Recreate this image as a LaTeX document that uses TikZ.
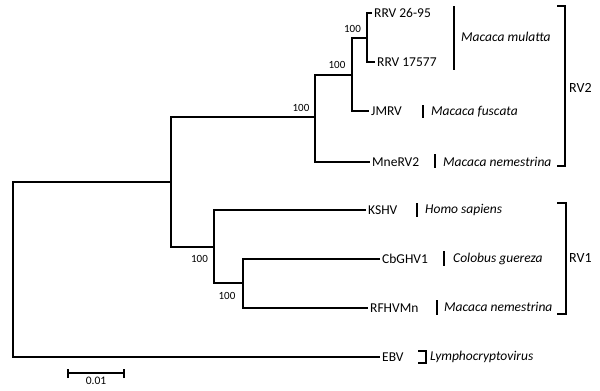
\documentclass[tikz,border=0pt]{standalone}
\usepackage{fontspec}
\setmainfont{Carlito}
\begin{document}
\begin{tikzpicture}[x=1pt,y=-1pt,
  branch/.style={line width=2pt, line join=miter},
  bar/.style={line width=2.3pt},
  brk/.style={line width=2pt, line join=miter},
  leaf/.style={anchor=west, inner xsep=2pt, inner ysep=0pt, text height=8.7pt, text depth=0pt, font=\fontsize{13.5}{16}\selectfont},
  host/.style={anchor=west, inner xsep=0pt, inner ysep=0pt, text height=8.7pt, text depth=0pt, font=\fontsize{13.5}{16}\selectfont\itshape},
  boot/.style={inner sep=0pt, font=\fontsize{11}{13}\selectfont},
  grp/.style={anchor=west, inner sep=0pt, text height=8.7pt, text depth=0pt, font=\fontsize{14}{16}\selectfont}]
\useasboundingbox (0,0) rectangle (600,391);
% internal nodes
\coordinate (R) at (13,269.5);
\coordinate (A) at (171,182);
\coordinate (D) at (315,117);
\coordinate (D2) at (352,75);
\coordinate (E) at (367,38);
\coordinate (B) at (214,247);
\coordinate (C) at (243,283);
% leaf labels
\node[leaf] (rrv26) at (372,13) {RRV 26-95};
\node[leaf] (rrv17) at (375,62) {RRV 17577};
\node[leaf] (jmrv) at (369,111) {JMRV};
\node[leaf] (mne) at (370,162) {MneRV2};
\node[leaf] (kshv) at (366,210) {KSHV};
\node[leaf] (cb) at (380,259) {CbGHV1};
\node[leaf] (rf) at (368,308) {RFHVMn};
\node[leaf] (ebv) at (380,357) {EBV};
% tree
\draw[branch] (A) -| (R) |- (ebv.west);
\draw[branch] (D) -| (A) |- (B);
\draw[branch] (D2) -| (D) |- (mne.west);
\draw[branch] (E) -| (D2) |- (jmrv.west);
\draw[branch] (rrv26.west) -| (E) |- (rrv17.west);
\draw[branch] (kshv.west) -| (B) |- (C);
\draw[branch] (cb.west) -| (C) |- (rf.west);
% bootstrap values
\node[boot] (b1) at (352.5,29) {100};
\node[boot] (b2) at (337,65) {100};
\node[boot] (b3) at (301,108) {100};
\node[boot] (b4) at (199.5,259) {100};
\node[boot] (b5) at (227,296) {100};
% host bars
\coordinate (m1) at (454,6); \coordinate (m2) at (454,70);
\draw[bar] (m1) -- (m2);
\node[host] (hmul) at (461,37) {Macaca mulatta};
\coordinate (f1) at (423,105); \coordinate (f2) at (423,118);
\draw[bar] (f1) -- (f2);
\node[host] (hfus) at (431,111) {Macaca fuscata};
\coordinate (n1) at (435,154); \coordinate (n2) at (435,168);
\draw[bar] (n1) -- (n2);
\node[host] (hnem) at (443,162) {Macaca nemestrina};
\coordinate (h1) at (417,203); \coordinate (h2) at (417,217);
\draw[bar] (h1) -- (h2);
\node[host] (hhom) at (425,209) {Homo sapiens};
\coordinate (c1) at (444,251); \coordinate (c2) at (444,266);
\draw[bar] (c1) -- (c2);
\node[host] (hcol) at (453,258) {Colobus guereza};
\coordinate (r1) at (437,300); \coordinate (r2) at (437,315);
\draw[bar] (r1) -- (r2);
\node[host] (hnem2) at (444,307) {Macaca nemestrina};
\coordinate (l1) at (418,351); \coordinate (l2) at (426,351);
\coordinate (l3) at (426,363); \coordinate (l4) at (418,363);
\draw[brk] (l1) -- (l2) -- (l3) -- (l4);
\node[host] (hlym) at (430,356) {Lymphocryptovirus};
% group brackets
\coordinate (g1) at (557,6); \coordinate (g2) at (565,6);
\coordinate (g3) at (565,166); \coordinate (g4) at (557,166);
\draw[brk] (g1) -- (g2) -- (g3) -- (g4);
\node[grp] (rv2) at (569,88) {RV2};
\coordinate (k1) at (557,203); \coordinate (k2) at (566,203);
\coordinate (k3) at (566,314); \coordinate (k4) at (557,314);
\draw[brk] (k1) -- (k2) -- (k3) -- (k4);
\node[grp] (rv1) at (569,258) {RV1};
% scale bar
\coordinate (s1) at (68,373); \coordinate (s2) at (124,373);
\draw[branch] (s1) -- (s2);
\draw[line width=2pt] ([yshift=-5pt]s1) -- ([yshift=4pt]s1);
\draw[line width=2pt] ([yshift=-5pt]s2) -- ([yshift=4pt]s2);
\node[inner sep=0pt, font=\fontsize{11.5}{13}\selectfont] (sl) at (96,381) {0.01};
\end{tikzpicture}
\end{document}
